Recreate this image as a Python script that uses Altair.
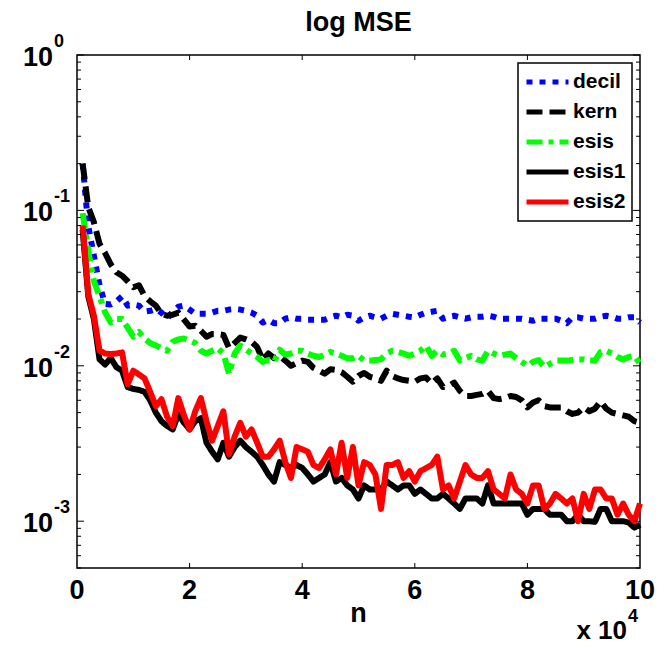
import altair as alt
import pandas as pd

FONT = "Liberation Sans, Arial, Helvetica, sans-serif"

n_values = list(range(1000, 100001, 1000))

decil = [0.20, 0.079, 0.051, 0.033, 0.025, 0.0248, 0.026, 0.028, 0.0244, 0.0248,
         0.0244, 0.0223, 0.0226, 0.0232, 0.0220, 0.0201, 0.0223, 0.024, 0.0244, 0.023,
         0.0216, 0.0216, 0.0216, 0.022, 0.0226, 0.0226, 0.023, 0.0232, 0.023, 0.0226,
         0.022, 0.021, 0.019, 0.0198, 0.0188, 0.0188, 0.0201, 0.0205, 0.0201, 0.0201,
         0.0198, 0.0198, 0.0198, 0.0198, 0.0205, 0.021, 0.0205, 0.0213, 0.021, 0.0195,
         0.0205, 0.021, 0.0205, 0.0201, 0.021, 0.0216, 0.0213, 0.021, 0.0207, 0.0205,
         0.0213, 0.022, 0.0223, 0.0226, 0.0201, 0.0207, 0.021, 0.0205, 0.0201, 0.0205,
         0.0207, 0.0207, 0.021, 0.0207, 0.0201, 0.0201, 0.0201, 0.0201, 0.0201, 0.0198,
         0.0195, 0.0201, 0.0201, 0.0201, 0.0201, 0.0195, 0.0188, 0.0205, 0.0205, 0.0201,
         0.0201, 0.0201, 0.0207, 0.021, 0.0207, 0.0201, 0.0201, 0.0205, 0.0205, 0.019]

kern = [0.20, 0.105, 0.084, 0.061, 0.053, 0.045, 0.040, 0.038, 0.035, 0.032,
        0.033, 0.028, 0.026, 0.0244, 0.0216, 0.021, 0.0213, 0.022, 0.0198, 0.0179,
        0.0181, 0.0168, 0.0154, 0.016, 0.016, 0.0158, 0.013, 0.014, 0.0152, 0.0148,
        0.0143, 0.0132, 0.0109, 0.012, 0.0112, 0.0116, 0.0108, 0.010, 0.0104, 0.0108,
        0.0106, 0.0097, 0.0093, 0.0089, 0.0095, 0.0094, 0.0091, 0.0085, 0.0079, 0.0086,
        0.009, 0.0085, 0.0083, 0.008, 0.0093, 0.0086, 0.0083, 0.0081, 0.008, 0.0079,
        0.0083, 0.0084, 0.0077, 0.0083, 0.0073, 0.0074, 0.0078, 0.0069, 0.0064, 0.0064,
        0.0065, 0.0066, 0.0069, 0.0062, 0.0061, 0.0062, 0.0064, 0.0063, 0.006, 0.0054,
        0.0058, 0.006, 0.0055, 0.0054, 0.0054, 0.0054, 0.0051, 0.0049, 0.005, 0.0054,
        0.0051, 0.0053, 0.0059, 0.0053, 0.005, 0.0049, 0.0048, 0.0047, 0.0044, 0.0043]

esis = [0.096, 0.055, 0.035, 0.028, 0.022, 0.019, 0.020, 0.020, 0.0176, 0.0154,
        0.0165, 0.015, 0.014, 0.0135, 0.013, 0.0125, 0.0143, 0.0148, 0.015, 0.0145,
        0.014, 0.0125, 0.012, 0.0125, 0.013, 0.012, 0.0089, 0.012, 0.0135, 0.0127,
        0.012, 0.0114, 0.0106, 0.0109, 0.0106, 0.0127, 0.0118, 0.012, 0.0125, 0.0125,
        0.012, 0.0116, 0.0114, 0.0118, 0.0123, 0.012, 0.0116, 0.0112, 0.0112, 0.0116,
        0.0108, 0.0108, 0.0109, 0.011, 0.012, 0.0125, 0.0123, 0.012, 0.0116, 0.012,
        0.0125, 0.0135, 0.0116, 0.0125, 0.0118, 0.012, 0.0125, 0.0108, 0.0112, 0.0116,
        0.011, 0.0108, 0.0125, 0.012, 0.0116, 0.0118, 0.012, 0.0112, 0.0106, 0.010,
        0.0106, 0.0109, 0.0098, 0.0103, 0.0108, 0.0108, 0.0108, 0.0109, 0.011, 0.011,
        0.0108, 0.0108, 0.0123, 0.0125, 0.012, 0.0114, 0.011, 0.0114, 0.0116, 0.0103]

esis1 = [0.075, 0.028, 0.020, 0.011, 0.0102, 0.0112, 0.0098, 0.0093, 0.0073, 0.0071,
         0.0070, 0.0068, 0.0060, 0.0050, 0.0044, 0.0041, 0.0039, 0.0049, 0.0043, 0.0039,
         0.0044, 0.0046, 0.0032, 0.0028, 0.0025, 0.0032, 0.0026, 0.0030, 0.0033, 0.0030,
         0.0028, 0.0026, 0.0023, 0.0020, 0.0018, 0.0024, 0.0023, 0.0022, 0.0023, 0.0022,
         0.0020, 0.0018, 0.0019, 0.0020, 0.0024, 0.0018, 0.0019, 0.0017, 0.0016, 0.0014,
         0.0017, 0.0016, 0.0016, 0.0016, 0.0018, 0.0017, 0.0016, 0.0017, 0.0017, 0.0015,
         0.0016, 0.0015, 0.0014, 0.0014, 0.0015, 0.0014, 0.0013, 0.0012, 0.0014, 0.0014,
         0.0014, 0.0013, 0.0017, 0.0013, 0.0013, 0.0013, 0.0013, 0.0013, 0.0013, 0.0011,
         0.0012, 0.0012, 0.0012, 0.0011, 0.0011, 0.0011, 0.0010, 0.0010, 0.0011, 0.0010,
         0.0010, 0.00099, 0.0012, 0.0012, 0.0010, 0.0010, 0.0010, 0.00098, 0.00091, 0.00095]

esis2 = [0.080, 0.029, 0.021, 0.0125, 0.012, 0.0119, 0.012, 0.0122, 0.0076, 0.0093,
         0.0088, 0.0083, 0.0068, 0.0055, 0.0061, 0.0047, 0.0041, 0.0062, 0.0048, 0.0039,
         0.0051, 0.0062, 0.0044, 0.0033, 0.0041, 0.0051, 0.0027, 0.0035, 0.0043, 0.0035,
         0.0039, 0.0032, 0.0026, 0.0026, 0.0029, 0.0033, 0.0024, 0.0019, 0.0030, 0.0029,
         0.0028, 0.0023, 0.0022, 0.0025, 0.0029, 0.0020, 0.0032, 0.0019, 0.0030, 0.0017,
         0.0024, 0.0023, 0.0020, 0.0012, 0.0023, 0.0023, 0.0024, 0.0019, 0.0021, 0.0018,
         0.0021, 0.0022, 0.0023, 0.0026, 0.0016, 0.0017, 0.0014, 0.0018, 0.0023, 0.0020,
         0.0019, 0.0019, 0.0021, 0.0016, 0.0015, 0.0014, 0.0020, 0.0016, 0.0015, 0.0013,
         0.0017, 0.0017, 0.0012, 0.0013, 0.0015, 0.0014, 0.0013, 0.0014, 0.0010, 0.0015,
         0.0012, 0.0016, 0.0016, 0.0014, 0.0014, 0.0011, 0.0013, 0.0011, 0.0010, 0.0013]

series_names = ["decil", "kern", "esis", "esis1", "esis2"]
series_values = [decil, kern, esis, esis1, esis2]
series_colors = ["#0000ff", "#000000", "#00ff00", "#000000", "#ff0000"]
series_dash = [[6, 7], [16, 7], [16, 6, 5, 6], [1, 0], [1, 0]]

x_tick_values = [0, 20000, 40000, 60000, 80000, 100000]
x_tick_labels = ["0", "2", "4", "6", "8", "10"]
y_major = [1, 0.1, 0.01, 0.001]
y_exponents = ["0", "-1", "-2", "-3"]
y_minor = [m * 10 ** e for e in (-1, -2, -3, -4) for m in range(2, 10)
           if 0.0005 <= m * 10 ** e < 1]

title_text = "log MSE"
x_title = "n"
mult_text = "x 10"
mult_exp_text = "4"

W, H = 563, 513

rows = []
for name, vals in zip(series_names, series_values):
    for n, v in zip(n_values, vals):
        rows.append({"n": n, "mse": v, "series": name})
df = pd.DataFrame(rows)

xscale = alt.Scale(domain=[0, 100000], nice=False, zero=False)
yscale = alt.Scale(type="log", domain=[0.0005, 1], nice=False)

legend = alt.Legend(
    title=None, orient="none", legendX=441, legendY=8,
    symbolType="stroke", symbolSize=1764, symbolStrokeWidth=5,
    clipHeight=26, rowPadding=4, padding=6,
    labelFont=FONT, labelFontSize=21, labelFontWeight="bold",
    labelColor="black", labelOffset=2, labelLimit=200,
    fillColor="white", strokeColor="black",
)

color = alt.Color("series:N", scale=alt.Scale(domain=series_names, range=series_colors),
                  legend=legend)
dash = alt.StrokeDash("series:N", scale=alt.Scale(domain=series_names, range=series_dash),
                      legend=legend)

layers = []
for name in series_names:
    layers.append(
        alt.Chart(df).transform_filter(alt.datum.series == name)
        .mark_line(strokeWidth=6, strokeCap="butt", strokeJoin="round")
        .encode(
            x=alt.X("n:Q", scale=xscale, axis=None),
            y=alt.Y("mse:Q", scale=yscale, axis=None),
            color=color, strokeDash=dash,
        )
    )

ymaj_df = pd.DataFrame({"v": y_major, "exp": y_exponents})
ymin_df = pd.DataFrame({"v": y_minor})
xt_df = pd.DataFrame({"n": x_tick_values, "lab": x_tick_labels})
xt_inner = pd.DataFrame({"n": x_tick_values[1:-1]})

def yrule(data, x0, x1):
    return alt.Chart(data).mark_rule(color="black", strokeWidth=1).encode(
        y=alt.Y("v:Q", scale=yscale, axis=None), x=alt.value(x0), x2=alt.value(x1))

def xrule(y0, y1):
    return alt.Chart(xt_inner).mark_rule(color="black", strokeWidth=1).encode(
        x=alt.X("n:Q", scale=xscale, axis=None), y=alt.value(y0), y2=alt.value(y1))

ticks = [
    yrule(ymaj_df, 0, 7), yrule(ymaj_df, W - 7, W),
    yrule(ymin_df, 0, 4), yrule(ymin_df, W - 4, W),
    xrule(H, H - 5), xrule(0, 5),
]

def text(data, **kw):
    base = dict(font=FONT, fontWeight="bold", color="black", baseline="middle")
    base.update(kw)
    return alt.Chart(data).mark_text(**base)

ylab_base = text(ymaj_df, align="right", fontSize=27, dy=3).encode(
    y=alt.Y("v:Q", scale=yscale, axis=None), x=alt.value(-24), text=alt.value("10"))
ylab_exp = text(ymaj_df, align="left", fontSize=18, dy=-13).encode(
    y=alt.Y("v:Q", scale=yscale, axis=None), x=alt.value(-23), text="exp:N")

xlab = text(xt_df, align="center", fontSize=27).encode(
    x=alt.X("n:Q", scale=xscale, axis=None), y=alt.value(H + 23), text="lab:N")

tdf = pd.DataFrame({"t": [title_text], "xt": [x_title], "m": [mult_text], "me": [mult_exp_text]})
title = text(tdf, align="center", fontSize=27).encode(
    x=alt.value(W / 2), y=alt.value(-32), text="t:N")
xtitle = text(tdf, align="center", fontSize=27).encode(
    x=alt.value(W / 2), y=alt.value(H + 46), text="xt:N")
mult = text(tdf, align="right", fontSize=26).encode(
    x=alt.value(550), y=alt.value(H + 63), text="m:N")
mult_exp = text(tdf, align="left", fontSize=18).encode(
    x=alt.value(551), y=alt.value(H + 49), text="me:N")

chart = alt.layer(*layers, *ticks, ylab_base, ylab_exp, xlab, title, xtitle, mult, mult_exp).properties(
    width=W, height=H,
    padding={"left": 69, "top": 47, "right": 16, "bottom": 76},
    autosize=alt.AutoSizeParams(type="none"),
    background="white",
).configure_view(stroke="black", strokeWidth=1.5).configure_legend(strokeWidth=1.5)

chart.save("out.html", embed_options={"renderer": "svg", "actions": False})
